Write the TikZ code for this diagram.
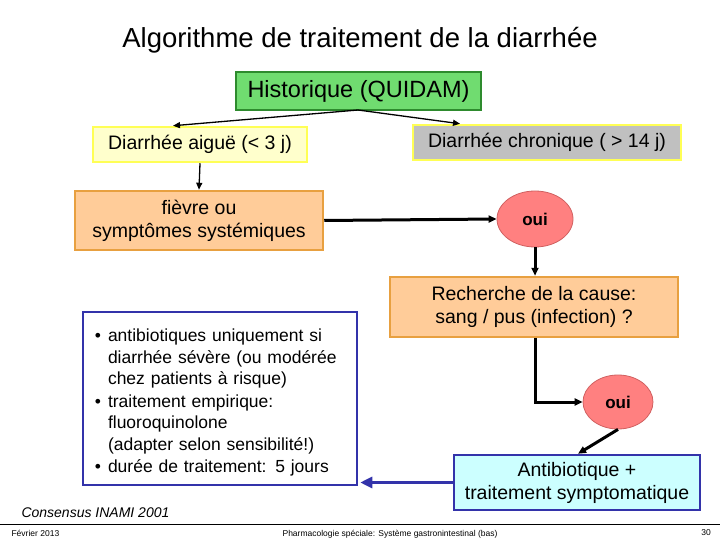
\documentclass[tikz,border=0pt]{standalone}
\usepackage{fontspec}
\setmainfont{Liberation Sans}
\usetikzlibrary{arrows.meta,shapes.geometric}
\definecolor{gfill}{HTML}{70DC70}\definecolor{gdraw}{HTML}{2E8B2E}
\definecolor{yfill}{HTML}{FFFFCC}\definecolor{ydraw}{HTML}{FFFF55}
\definecolor{gray1}{HTML}{C0C0C0}
\definecolor{ofill}{HTML}{FFCC99}\definecolor{odraw}{HTML}{E8A040}
\definecolor{rfill}{HTML}{FF8080}\definecolor{rdraw}{HTML}{D06060}
\definecolor{cfill}{HTML}{CCFFFF}\definecolor{bdraw}{HTML}{3333AA}
\tikzset{
 boxA/.style={draw, line width=2.5pt, inner sep=0pt, align=center, font=\fontsize{19.5}{23}\selectfont},
 ovalA/.style={draw=rdraw, fill=rfill, ellipse, line width=0.8pt, inner sep=0pt, font=\fontsize{17}{20}\selectfont\bfseries},
 arr/.style={-{Triangle[length=7pt,width=6pt]}, line width=1.3pt},
 tarr/.style={-{Triangle[length=8pt,width=7pt]}, line width=3pt},
}
\begin{document}
\begin{tikzpicture}[x=1pt,y=-1pt]
\useasboundingbox (0,0) rectangle (720,540);
\node (title) at (360,40) {\fontsize{27.5}{32}\selectfont Algorithme de traitement de la diarrhée};
\node[boxA, draw=gdraw, fill=gfill, minimum width=245pt, minimum height=38pt, font=\fontsize{23.5}{27}\selectfont] (hist) at (358.5,91) {Historique (QUIDAM)};
\node[boxA, draw=ydraw, fill=yfill, minimum width=214pt, minimum height=35pt] (aigu) at (200,144.5) {Diarrhée aiguë (< 3 j)};
\node[boxA, draw=ydraw, fill=gray1, minimum width=268pt, minimum height=35pt] (chron) at (547,142.5) {Diarrhée chronique ( > 14 j)};
\node[boxA, draw=odraw, fill=ofill, minimum width=248pt, minimum height=59pt] (fievre) at (199,220.5) {fièvre ou\\symptômes systémiques};
\node[ovalA, minimum width=76pt, minimum height=56pt] (oui1) at (535,219) {oui};
\node[boxA, draw=odraw, fill=ofill, minimum width=288pt, minimum height=60pt] (rech) at (534,307) {Recherche de la cause:\\sang / pus (infection) ?};
\node[ovalA, minimum width=70pt, minimum height=54pt] (oui2) at (618,402) {oui};
\node[boxA, draw=bdraw, fill=cfill, minimum width=246pt, minimum height=55pt] (anti) at (577,482.5) {Antibiotique +\\traitement symptomatique};
\node[boxA, draw=bdraw, fill=white, minimum width=274pt, minimum height=173pt, text width=258pt, align=left, font=\fontsize{17.5}{21.5}\selectfont] (list) at (220,398.5) {%
\begin{list}{\textbullet}{\leftmargin=17pt\labelwidth=10pt\labelsep=7pt\itemsep=1pt\parsep=0pt\topsep=0pt}\raggedright
\item antibiotiques uniquement si\\diarrhée sévère (ou modérée\\chez patients à risque)
\item traitement empirique:\\fluoroquinolone\\(adapter selon sensibilité!)
\item durée de traitement: 5 jours
\end{list}};
\node[anchor=west] (cons) at (18,513) {\fontsize{14}{16}\selectfont\itshape Consensus INAMI 2001};
\coordinate (l0) at (0,524); \coordinate (l1) at (720,524);
\draw[line width=0.8pt] (l0) -- (l1);
\node[anchor=west] (date) at (8,533) {\fontsize{8.5}{9}\selectfont Février 2013};
\node (pharma) at (390,534) {\fontsize{8.5}{9}\selectfont Pharmacologie spéciale: Système gastronintestinal (bas)};
\node (page) at (706,533) {\fontsize{8.5}{9}\selectfont 30};
\coordinate (hb) at (358,110);
\draw[arr] (hb) -- (aigu.north west -| 173,0) ;
\draw[arr] (hb) -- ([xshift=-87pt]chron.north);
\draw[arr] (aigu.south -| 200,0) -- (fievre.north);
\draw[tarr] (fievre.east) -- (oui1.west);
\draw[tarr] (oui1.south) -- (rech.north -| oui1.south);
\draw[tarr] (rech.south -| oui1.south) |- (oui2.west);
\draw[tarr] (oui2.south) -- ([xshift=1pt]anti.north);
\draw[-{Triangle[length=12pt,width=11pt]}, line width=3.5pt, color=bdraw, shorten >=2pt] (anti.west) -- (anti.west -| list.east);
\end{tikzpicture}
\end{document}
